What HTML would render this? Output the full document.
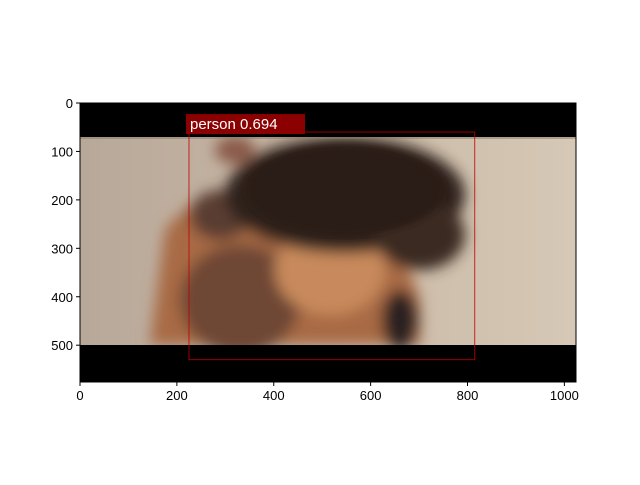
<!DOCTYPE html>
<html><head><meta charset="utf-8"><style>
body{margin:0;background:#fff;width:640px;height:480px;overflow:hidden;font-family:"Liberation Sans","DejaVu Sans",sans-serif}
</style></head><body>
<svg id="chart" width="640" height="480" xmlns="http://www.w3.org/2000/svg">
<defs>
<filter id="blur" x="-20%" y="-20%" width="140%" height="140%"><feGaussianBlur stdDeviation="7"/></filter>
<filter id="blur2"><feGaussianBlur stdDeviation="3"/></filter>
<clipPath id="imgclip"><rect x="80" y="137" width="496" height="208"/></clipPath>
<linearGradient id="bg" x1="0" x2="1"><stop offset="0" stop-color="#b8a89a"/><stop offset="0.5" stop-color="#c9b8a5"/><stop offset="1" stop-color="#d6c8b6"/></linearGradient>
</defs>
<g id="image">
<rect x="80" y="103" width="496" height="279" fill="#000"/>
<g clip-path="url(#imgclip)">
<rect x="80" y="137" width="496" height="208" fill="url(#bg)"/>
<g filter="url(#blur)">
<path d="M150,345 L165,230 Q200,185 260,190 L330,200 Q400,230 420,300 L420,345 Z" fill="#a86a45"/>
<ellipse cx="240" cy="300" rx="60" ry="55" fill="#6e4634"/>
<ellipse cx="330" cy="270" rx="55" ry="45" fill="#c88a5c"/>
<ellipse cx="220" cy="215" rx="30" ry="25" fill="#5a3d32"/>
<ellipse cx="345" cy="195" rx="120" ry="58" fill="#2e211b"/>
<ellipse cx="420" cy="235" rx="45" ry="35" fill="#3a2a22"/>
<ellipse cx="235" cy="150" rx="20" ry="14" fill="#8a5a48"/>
<ellipse cx="400" cy="320" rx="18" ry="30" fill="#2a2020"/>
</g>
<ellipse cx="345" cy="190" rx="100" ry="45" fill="#2b1f19" filter="url(#blur2)"/>
</g>
<rect x="80" y="137" width="496" height="2" fill="#8a7a6a" opacity="0.5"/>
</g>
<g id="axes" fill="none" stroke="#000" stroke-width="1">
<rect x="80" y="103" width="496" height="279"/>
</g>
<g id="xticks" font-size="13" text-anchor="middle"></g>
<g id="yticks" font-size="13" text-anchor="end"></g>
<g id="det"></g>
</svg>
<script>
const xTicks=[0,200,400,600,800,1000];
const yTicks=[0,100,200,300,400,500];
const imgW=1024, imgH=576;
const boxes=[[225,60,815,530]];
const labels=["person 0.694"];
const L=80,T=103,W=496,H=279;
const sx=v=>L+v/imgW*W, sy=v=>T+v/imgH*H;
const NS="http://www.w3.org/2000/svg";
function mk(tag,attrs,parent){const e=document.createElementNS(NS,tag);for(const k in attrs)e.setAttribute(k,attrs[k]);parent.appendChild(e);return e;}
const xg=document.getElementById('xticks'),yg=document.getElementById('yticks'),dg=document.getElementById('det');
xTicks.forEach(v=>{const x=sx(v);
const l=mk('line',{x1:x,x2:x,y1:T+H,y2:T+H+4,stroke:'#000'},xg);


const t=mk('text',{x:x,y:T+H+18},xg);t.textContent=v;

});
yTicks.forEach(v=>{const y=sy(v);
const l=mk('line',{x1:L-4,x2:L,y1:y,y2:y,stroke:'#000'},yg);


const t=mk('text',{x:L-7,y:y+5},yg);t.textContent=v;

});
boxes.forEach((b,i)=>{
const r=mk('rect',{x:sx(b[0]),y:sy(b[1]),width:sx(b[2])-sx(b[0]),height:sy(b[3])-sy(b[1]),fill:'none',stroke:'#c00000','stroke-width':0.8},dg);


const bg=mk('rect',{x:sx(b[0])-3,y:sy(b[1])-18,width:119,height:20,fill:'#8b0000'},dg);


const t=mk('text',{x:sx(b[0])+1,y:sy(b[1])-3,fill:'#fff','font-size':15},dg);t.textContent=labels[i];

});
</script>
</body></html>
